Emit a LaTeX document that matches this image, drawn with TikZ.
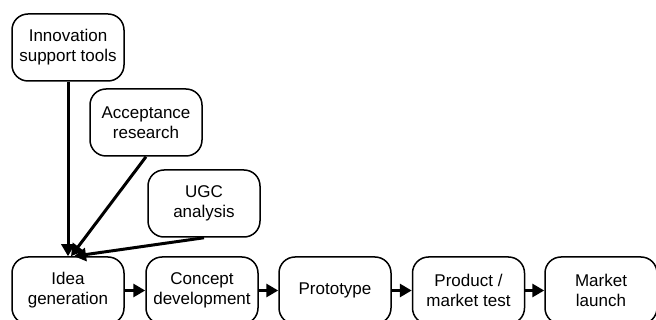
\documentclass[tikz,border=0pt]{standalone}
\usepackage{fontspec}
\setmainfont{Liberation Sans}
\usetikzlibrary{arrows.meta}
\begin{document}
\begin{tikzpicture}[x=1pt,y=-1pt,
  box/.style={draw, line width=1.5pt, rounded corners=16pt, minimum width=112pt, minimum height=67pt, inner sep=0pt, align=center, font=\fontsize{17}{20}\selectfont},
  arr/.style={line width=3pt, -{Triangle[length=12pt,width=13pt]}}]
\clip (0,0) rectangle (656,320);
\useasboundingbox (0,0) rectangle (656,320);
\node[box] (inno) at (68,47.5) {Innovation\\support tools};
\node[box] (acc) at (146,122.5) {Acceptance\\research};
\node[box] (ugc) at (204,203.5) {UGC\\analysis};
\node[box] (idea) at (68,290.5) {Idea\\generation};
\node[box] (concept) at (202,290.5) {Concept\\development};
\node[box] (proto) at (335,290.5) {Prototype};
\node[box] (product) at (468.5,290.5) {Product /\\market test};
\node[box] (market) at (601,290.5) {Market\\launch};
\coordinate (t1) at ([xshift=3pt]idea.north);
\coordinate (t2) at ([xshift=6pt]idea.north);
\draw[arr] (inno.south) -- (idea.north);
\draw[arr] (acc.south) -- (t1);
\draw[arr] (ugc.south) -- (t2);
\draw[arr] (idea.east) -- (concept.west);
\draw[arr] (concept.east) -- (proto.west);
\draw[arr] (proto.east) -- (product.west);
\draw[arr] (product.east) -- (market.west);
\end{tikzpicture}
\end{document}
